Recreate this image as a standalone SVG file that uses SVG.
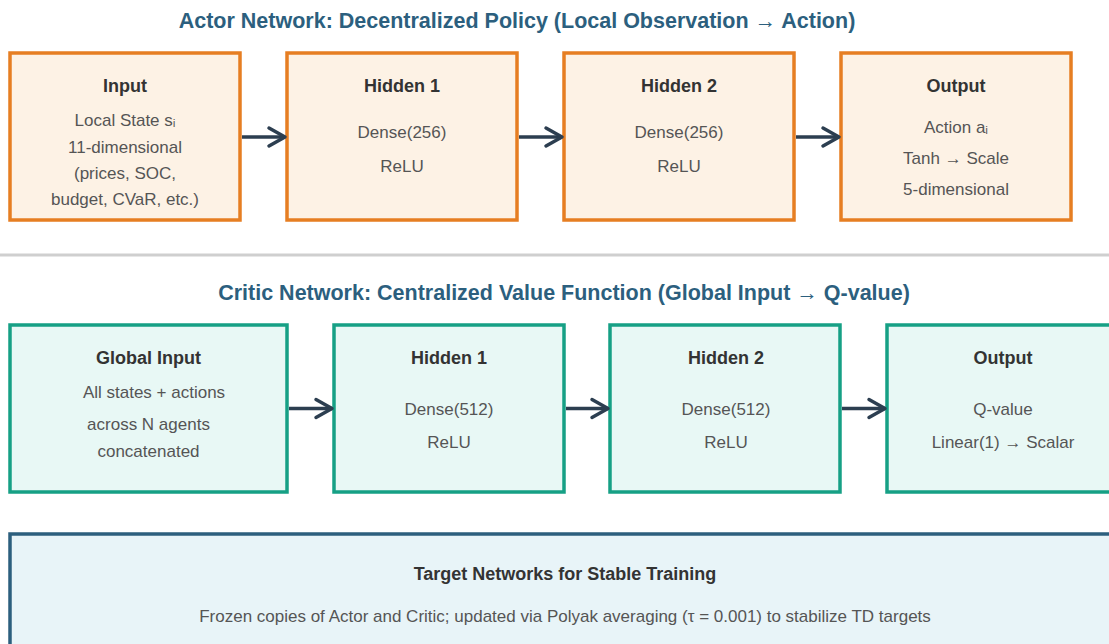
<svg xmlns="http://www.w3.org/2000/svg" width="1109" height="644" viewBox="0 0 1109 644">
<style>
.ttl{font-family:"Liberation Sans",Arial,sans-serif;font-weight:bold;font-size:21.5px;fill:#2c5f7e;text-anchor:middle}
.hd{font-family:"Liberation Sans",Arial,sans-serif;font-weight:bold;font-size:18px;fill:#333;text-anchor:middle}
.bd{font-family:"Liberation Sans",Arial,"DejaVu Sans",sans-serif;font-size:17px;fill:#555;text-anchor:middle}
.actor{fill:#fdf2e5;stroke:#e67e22;stroke-width:3.5}
.critic{fill:#e8f8f5;stroke:#16a085;stroke-width:3.5}
.target{fill:#e8f4f8;stroke:#2c5f7e;stroke-width:3.5}
.arr{stroke:#2c3e50;stroke-width:3.5;fill:none;marker-end:url(#ah)}
</style>
<defs>
<marker id="ah" markerUnits="userSpaceOnUse" markerWidth="24" markerHeight="24" viewBox="-20 -12 24 24" refX="0" refY="0" orient="auto">
<path d="M-16,-9 L0,0 L-16,9" fill="none" stroke="#2c3e50" stroke-width="3.5" stroke-linecap="round" stroke-linejoin="round"/>
</marker>
</defs>
<rect width="1109" height="644" fill="#fff"/>
<text class="ttl" x="517" y="28">Actor Network: Decentralized Policy (Local Observation → Action)</text>
<line x1="0" y1="255" x2="1109" y2="255" stroke="#cfcfcf" stroke-width="3"/>
<text class="ttl" x="564" y="300">Critic Network: Centralized Value Function (Global Input → Q-value)</text>

<g id="actor-input">
<rect class="actor" x="10" y="53" width="230" height="167"/>
<text class="hd" x="125" y="92">Input</text>
<text class="bd" x="125" y="126">Local State sᵢ</text>
<text class="bd" x="125" y="153">11-dimensional</text>
<text class="bd" x="125" y="179">(prices, SOC,</text>
<text class="bd" x="125" y="205">budget, CVaR, etc.)</text>
</g>
<g id="actor-hidden1">
<rect class="actor" x="287" y="53" width="230" height="167"/>
<text class="hd" x="402" y="92">Hidden 1</text>
<text class="bd" x="402" y="138">Dense(256)</text>
<text class="bd" x="402" y="172">ReLU</text>
</g>
<g id="actor-hidden2">
<rect class="actor" x="564" y="53" width="230" height="167"/>
<text class="hd" x="679" y="92">Hidden 2</text>
<text class="bd" x="679" y="138">Dense(256)</text>
<text class="bd" x="679" y="172">ReLU</text>
</g>
<g id="actor-output">
<rect class="actor" x="841" y="53" width="230" height="167"/>
<text class="hd" x="956" y="92">Output</text>
<text class="bd" x="956" y="133">Action aᵢ</text>
<text class="bd" x="956" y="164">Tanh → Scale</text>
<text class="bd" x="956" y="195">5-dimensional</text>
</g>

<g id="critic-input">
<rect class="critic" x="10" y="325" width="277" height="167"/>
<text class="hd" x="148.5" y="364">Global Input</text>
<text class="bd" x="154" y="398">All states + actions</text>
<text class="bd" x="148.5" y="430">across N agents</text>
<text class="bd" x="148.5" y="457">concatenated</text>
</g>
<g id="critic-hidden1">
<rect class="critic" x="334" y="325" width="230" height="167"/>
<text class="hd" x="449" y="364">Hidden 1</text>
<text class="bd" x="449" y="415">Dense(512)</text>
<text class="bd" x="449" y="448">ReLU</text>
</g>
<g id="critic-hidden2">
<rect class="critic" x="610" y="325" width="230" height="167"/>
<text class="hd" x="726" y="364">Hidden 2</text>
<text class="bd" x="726" y="415">Dense(512)</text>
<text class="bd" x="726" y="448">ReLU</text>
</g>
<g id="critic-output">
<rect class="critic" x="887" y="325" width="230" height="167"/>
<text class="hd" x="1003" y="364">Output</text>
<text class="bd" x="1003" y="415">Q-value</text>
<text class="bd" x="1003" y="448">Linear(1) → Scalar</text>
</g>

<g id="target">
<rect class="target" x="10" y="534" width="1120" height="130"/>
<text class="hd" x="565" y="580">Target Networks for Stable Training</text>
<text class="bd" x="565" y="622">Frozen copies of Actor and Critic; updated via Polyak averaging (τ = 0.001) to stabilize TD targets</text>
</g>

<g id="connectors">
<line class="arr" x1="242" y1="137" x2="285" y2="137"/>
<line class="arr" x1="519" y1="137" x2="562" y2="137"/>
<line class="arr" x1="796" y1="137" x2="839" y2="137"/>
<line class="arr" x1="289" y1="408.5" x2="332" y2="408.5"/>
<line class="arr" x1="566" y1="408.5" x2="608" y2="408.5"/>
<line class="arr" x1="842" y1="408.5" x2="885" y2="408.5"/>
</g>
</svg>
